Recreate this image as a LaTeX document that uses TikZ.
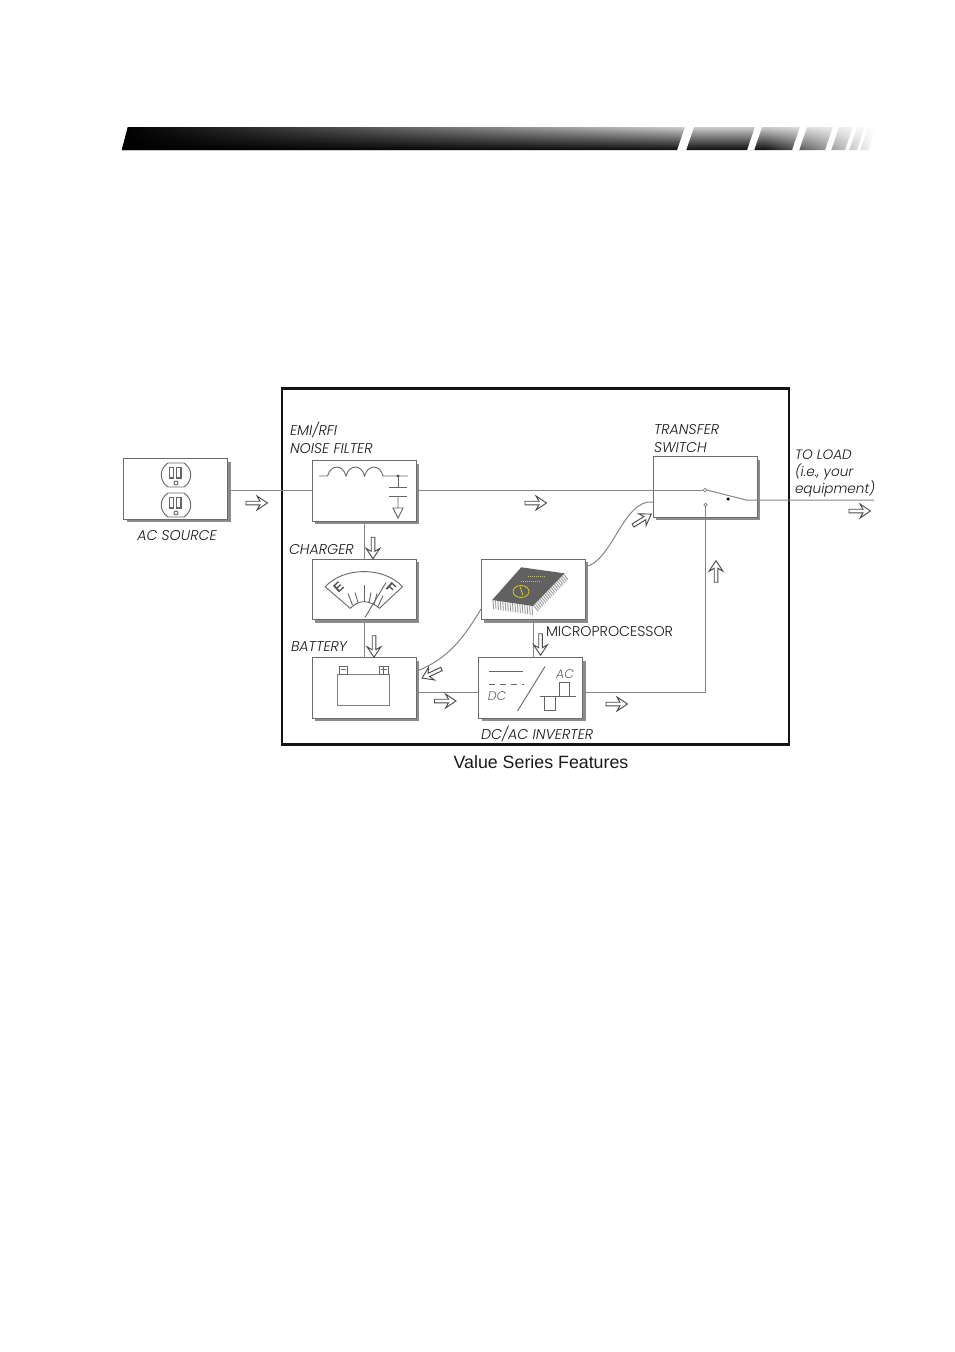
\documentclass[tikz,border=0pt]{standalone}
\usepackage{fontspec}
\usetikzlibrary{calc, fadings, positioning, shadows}
\setmainfont{Liberation Sans}
\newfontfamily\tagfont[ItalicFont=* Italic]{Poppins Light}
\tikzfading[name=barleft, left color=transparent!0, middle color=transparent!20, right color=transparent!100]
\tikzfading[name=barright, left color=transparent!100, right color=transparent!0]
\tikzset{
  box/.style={draw=black!58, line width=1pt, fill=white, minimum width=104pt, minimum height=60.5pt, inner sep=0pt, outer sep=0pt,
    drop shadow={shadow xshift=3pt, shadow yshift=-3pt, fill=black!45, opacity=1}},
  tag/.style={font=\tagfont\itshape\fontsize{14.2}{18}\selectfont, text=black!90, align=left, inner sep=0pt, outer sep=0pt},
  wire/.style={draw=black!48, line width=1pt},
  icon/.style={draw=black!60, line width=0.9pt},
  contact/.style={circle, draw=black!60, fill=white, line width=0.5pt, inner sep=0pt, minimum size=3.5pt},
  pin/.style={draw=black!40, line width=0.9pt},
  pics/flowmark/.style={code={
    \draw[draw=black!72, fill=white, line width=0.9pt, line join=miter] (0,-1.8) -- (14,-1.8) -- (11,-7) -- (21.5,0) -- (11,7) -- (14,1.8) -- (0,1.8) -- cycle;
  }}
}
\begin{document}
\begin{tikzpicture}[x=1pt, y=-1pt]
\useasboundingbox (0,0) rectangle (954,1352);

% Header bar
\shade[top color=black!20, middle color=black!52, bottom color=black!95] (122,150) -- (128,127) -- (875,127) -- (869,150) -- cycle;
\fill[black, path fading=barleft] (122,150) -- (128,127) -- (680,127) -- (680,150) -- cycle;
\fill[white, path fading=barright] (765,127) rectangle (876,150.5);
\foreach \a/\b in {677/685, 747/753, 792/798, 825/830, 845/848, 857/859}
  \fill[white] (\a,150.5) -- (\a+8,127) -- (\b+9,127) -- (\b+1,150.5) -- cycle;

% Outer frame
\node[draw=black!92, line width=2.8pt, minimum width=507pt, minimum height=356pt, inner sep=0pt] (frame) at (535.5,566.5) {};

% Units
\node[box] (ac) at (175.5,489) {};
\node[box] (filter) at (364,491) {};
\node[box, below=38pt of filter] (charger) {};
\node[box, below=38pt of charger] (battery) {};
\node[box, right=65pt of charger] (micro) {};
\node[box, right=62.5pt of battery] (inverter) {};
\node[box] (switch) at (705,487) {};

% Contacts of the switch
\coordinate (swpole) at (746,500);
\coordinate (loadend) at (874,500);
\node[contact] (swin) at (705,490) {};
\node[contact] (swdc) at (705.5,505) {};
\node[circle, fill=black, inner sep=0pt, minimum size=3.5pt] (swdot) at (728,499) {};

% Wiring
\draw[wire] (ac.east |- swin) -- (filter.west |- swin);
\draw[wire] (filter.east |- swin) -- (swin.west);
\draw[wire] (filter.south) -- (charger.north);
\draw[wire] (charger.south) -- (battery.north);
\draw[wire] (micro.south) -- (inverter.north -| micro.south);
\draw[wire] ([yshift=-4pt]battery.east) -- ([yshift=-4pt]inverter.west);
\draw[wire] ([yshift=-4pt]inverter.east) -| (swdc.south);
\draw[wire] (swin.east) -- (swpole) -- (loadend);
\draw[wire] ([shift={(0,-22.5)}]micro.east) .. controls +(28,-6) and ([shift={(-30,12)}]switch.west) .. ([shift={(0,15)}]switch.west);
\draw[wire] ([shift={(0,19.5)}]micro.west) .. controls +(-18,30) and ([shift={(31.5,-29)}]battery.east) .. ([shift={(1,-17)}]battery.east);

% Flow arrows
\pic at ([shift={(18.5,14)}]ac.east) {flowmark};
\pic at ([shift={(109,12)}]filter.east) {flowmark};
\pic at ([shift={(-25,11)}]loadend) {flowmark};
\pic[rotate=-90] at ([shift={(9,16)}]filter.south) {flowmark};
\pic[rotate=-90] at ([shift={(10,16)}]charger.south) {flowmark};
\pic[rotate=-90] at ([shift={(7.5,14)}]micro.south) {flowmark};
\pic at ([shift={(18.5,13)}]battery.east) {flowmark};
\pic at ([shift={(23.5,16)}]inverter.east) {flowmark};
\pic[rotate=90] at ([shift={(11,65)}]switch.south) {flowmark};
\pic[rotate=32] at ([shift={(-20,38.5)}]switch.west) {flowmark};
\pic[rotate=205] at ([shift={(25.5,-19)}]battery.east) {flowmark};

% Outlets
\foreach \oy in {475,505} {
  \begin{scope}[shift={(176,\oy)}]
    \draw[icon] (-8,-12) -- (8,-12) .. controls (17,-6) and (17,6) .. (8,12) -- (-8,12) .. controls (-17,6) and (-17,-6) .. (-8,-12) -- cycle;
    \draw[icon, line width=1.2pt] (-6.5,-7.5) rectangle (-2.5,3);
    \draw[icon, line width=1.2pt] (0.5,-7.5) rectangle (5,3);
    \draw[icon] (0,8) circle (2);
  \end{scope}
}

% Filter symbol
\begin{scope}[shift={(filter.center)}]
  \draw[icon] (-45,-15) -- (-36.5,-15) .. controls (-33,-27) and (-21,-27) .. (-18,-15)
    .. controls (-14.5,-27) and (-2.5,-27) .. (0.5,-15) .. controls (4,-27) and (16,-27) .. (19,-15) -- (44,-15);
  \fill[black!70] (34,-15) circle (1.7);
  \draw[icon] (34,-15) -- (34,-4);
  \draw[icon] (25,-4) -- (43,-4);
  \draw[icon] (25,5) -- (43,5);
  \draw[icon] (34,5) -- (34,17) (29,17) -- (39,17) -- (34,27) -- cycle;
\end{scope}

% Gauge
\begin{scope}[shift={(charger.center)}]
  \draw[icon] (-38.8,-2.8) .. controls (-20,-23) and (20,-23) .. (38.5,-2.8) -- (15.5,18.8)
    .. controls (5,10) and (-5,10) .. (-13.8,18.8) -- cycle;
  \draw[icon] (0,-4.5) -- (0,12);
  \foreach \ax/\ay/\bx/\by in {-16/4/-11.5/15.5, -9/3/-6/13, 7/3/5/13, 13/4/10/15, 19/6/14/17}
    \draw[icon] (\ax,\ay) -- (\bx,\by);
  \draw[icon] (1,28) -- (22,-7);
  \node[font=\bfseries\fontsize{13}{13}\selectfont, text=black!70, rotate=42] (gaugee) at (-25.5,-2) {E};
  \node[font=\bfseries\fontsize{13}{13}\selectfont, text=black!70, rotate=-42] (gaugef) at (27,-2) {F};
\end{scope}

% Chip
\begin{scope}[shift={(micro.center)}]
  \coordinate (chipt) at (-11.8,-22.2);
  \coordinate (chipr) at (31.5,-16.2);
  \coordinate (chipb) at (-0.2,16.5);
  \coordinate (chipl) at (-40.8,10.5);
  \foreach \t in {0.02,0.08,...,1}
    \draw[pin] ($(chipl)!\t!(chipb)$) -- ++(0.6,9);
  \foreach \t in {0.02,0.07,...,1}
    \draw[pin] ($(chipb)!\t!(chipr)$) -- ++(4.5,5.5);
  \fill[black!62] (chipt) -- (chipr) -- (chipb) -- (chipl) -- cycle;
  \draw[yellow!70!black!85!white, line width=0.6pt, dash pattern=on 1.2pt off 0.8pt] (-5,-13.5) -- (11.5,-13.5) (-12,-8) -- (8,-8);
  \draw[yellow!85!orange, line width=0.6pt] (-12,2) ellipse (8 and 6);
  \draw[yellow!85!orange, line width=0.6pt] (-13,-3) -- (-10,6);
\end{scope}

% Battery
\begin{scope}[shift={(battery.center)}]
  \draw[draw=black!50, line width=1pt] (-27,-14) rectangle (25.5,17);
  \draw[icon] (-25,-22) rectangle (-16.5,-14) (15,-22) rectangle (24,-14);
  \draw[icon, line width=1pt] (-23,-19) -- (-18.5,-19);
  \draw[icon, line width=0.7pt] (16.5,-18.5) -- (22.5,-18.5) (19.5,-22) -- (19.5,-14);
\end{scope}

% Inverter
\begin{scope}[shift={(inverter.center)}]
  \draw[icon] (-41.5,-17) -- (-8,-17);
  \draw[icon, dash pattern=on 6pt off 5pt] (-41.5,-4) -- (-7,-4);
  \draw[icon] (14.5,-21.5) -- (-13,23);
  \draw[icon] (9,8.5) -- (45.5,8.5);
  \draw[icon] (29,8.5) |- (39,-5.5) -- (39,8.5);
  \draw[icon] (14,8.5) |- (25,22) -- (25,8.5);
  \node[tag, text=black!60, font=\tagfont\itshape\fontsize{12.5}{13}\selectfont] (dclabel) at (-33.5,8.5) {DC};
  \node[tag, text=black!60, font=\tagfont\itshape\fontsize{12.5}{13}\selectfont] (aclabelinv) at (34.5,-14) {AC};
\end{scope}

% Labels
\node[tag, below=11.5pt of ac, xshift=1.5pt] (aclabel) {AC SOURCE};
\node[tag, anchor=south west] (filterlabel) at ([shift={(-22,-7)}]filter.north west) {EMI/RFI\\NOISE FILTER};
\node[tag, anchor=south west] (chargerlabel) at ([shift={(-23,-5)}]charger.north west) {CHARGER};
\node[tag, anchor=south west] (batterylabel) at ([shift={(-21,-6)}]battery.north west) {BATTERY};
\node[tag, anchor=north west] (inverterlabel) at ([shift={(2.5,8)}]inverter.south west) {DC/AC INVERTER};
\node[tag, anchor=south west] (switchlabel) at ([shift={(1,-4)}]switch.north west) {TRANSFER\\SWITCH};
\node[tag, anchor=west, font=\tagfont\itshape\fontsize{13.6}{17}\selectfont] (loadlabel) at (795,473.5) {TO LOAD\\(i.e., your\\equipment)};
\node[tag, anchor=north west, font=\tagfont\fontsize{14.2}{17}\selectfont] (microlabel) at ([shift={(13,6.5)}]micro.south) {MICROPROCESSOR};
\node[below=9pt of frame, font=\fontsize{17.8}{20}\selectfont, text=black!90, inner sep=0pt, xshift=5.5pt] (caption) {Value Series Features};
\end{tikzpicture}
\end{document}
